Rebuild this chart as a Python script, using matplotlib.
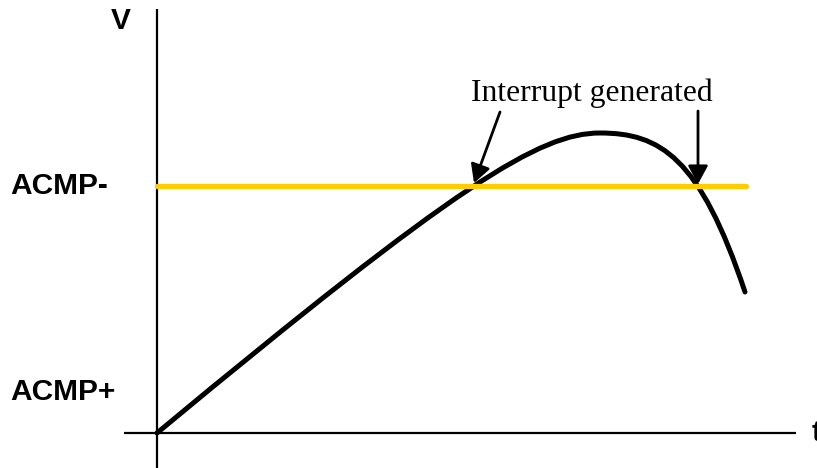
import matplotlib
matplotlib.use("Agg")
import matplotlib.pyplot as plt
from matplotlib.path import Path
from matplotlib.patches import PathPatch

# Curve as cubic Bezier segments (pixel coordinates)
curve_start = (157, 433)
curve_peak = (600, 133)
curve_end = (745, 292)
rise_ctrl = [(457, 184), (540, 133)]
fall_ctrl = [(660, 133), (700, 157)]

threshold_y = 186
threshold_x = [157, 746]
axis_origin = (157, 433)

labels_left = ["ACMP-", "ACMP+"]
labels_left_y = [186, 392]

fig = plt.figure(figsize=(8.17, 4.68), dpi=100)
ax = fig.add_axes([0, 0, 1, 1])
ax.set_xlim(0, 817)
ax.set_ylim(468, 0)
ax.axis("off")

# axes lines
ax.plot([axis_origin[0], axis_origin[0]], [9, 468], color="black", lw=1.6, solid_capstyle="butt")
ax.plot([124, 796], [axis_origin[1], axis_origin[1]], color="black", lw=1.6, solid_capstyle="butt")

# threshold line
ax.plot(threshold_x, [threshold_y, threshold_y], color="#FFCC00", lw=3.8, solid_capstyle="round")

# curve
verts = [curve_start, *rise_ctrl, curve_peak, *fall_ctrl, curve_end]
codes = [Path.MOVETO] + [Path.CURVE4] * 6
ax.add_patch(PathPatch(Path(verts, codes), facecolor="none", edgecolor="black",
                       lw=3.6, capstyle="round", joinstyle="round"))

# text
bold = dict(family=["Liberation Sans", "DejaVu Sans"], fontweight="bold", fontsize=21.5)
ax.text(121, 21, "V", ha="center", va="center", **bold)
ax.text(812, 433, "t", ha="left", va="center", **bold)
for lab, y in zip(labels_left, labels_left_y):
    ax.text(10, y, lab, ha="left", va="center", **bold)

ax.text(592, 93, "Interrupt generated", ha="center", va="center",
        family=["Liberation Serif", "DejaVu Serif"], fontsize=22.8)

arrow = dict(arrowstyle="-|>,head_length=1.1,head_width=0.6", color="black", lw=2.0, shrinkA=0, shrinkB=0)
ax.annotate("", xy=(474, 183), xytext=(500, 112), arrowprops=arrow)
ax.annotate("", xy=(698, 184), xytext=(698, 111), arrowprops=arrow)

fig.savefig("out.png", dpi=100)
